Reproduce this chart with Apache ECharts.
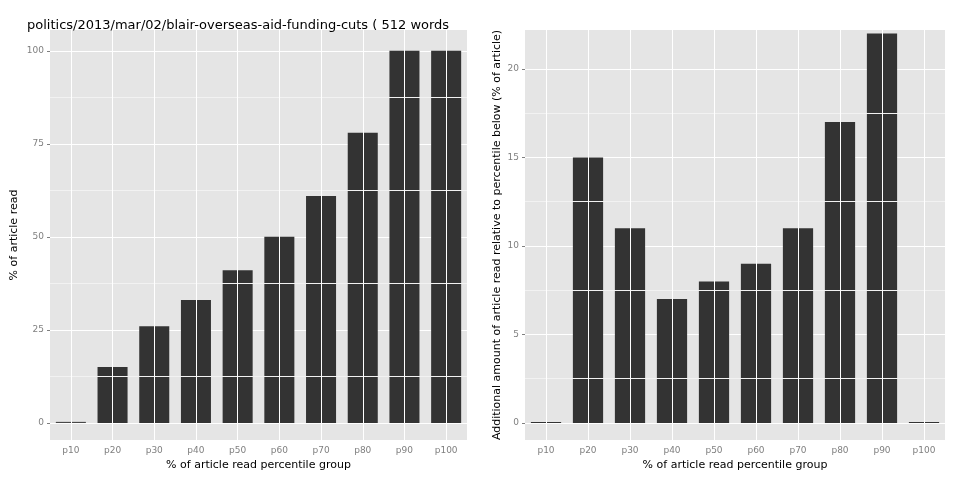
<!doctype html>
<html>
<head>
<meta charset="utf-8"/>
<script src="https://cdn.jsdelivr.net/npm/echarts@6/dist/echarts.min.js"></script>
<style>html,body{margin:0;background:#fff}#c{width:960px;height:480px}</style>
</head>
<body>
<div id="c"></div>
<script>
const groups = ["p10","p20","p30","p40","p50","p60","p70","p80","p90","p100"];
const pctRead = [0, 15, 26, 33, 41, 50, 61, 78, 100, 100];
const addRead = [0, 15, 11, 7, 8, 9, 11, 17, 22, 0];
const leftTicks = [0, 25, 50, 75, 100];
const leftMinor = [12.5, 37.5, 62.5, 87.5];
const rightTicks = [0, 5, 10, 15, 20];
const rightMinor = [2.5, 7.5, 12.5, 17.5];
const title = "politics/2013/mar/02/blair-overseas-aid-funding-cuts ( 512 words in article )";

const chart = echarts.init(document.getElementById("c"));
const font = "DejaVu Sans, sans-serif";

function xAx(idx) {
    return {
        type: "category", gridIndex: idx, data: groups,
        axisLine: {show: false},
        axisTick: {show: true, alignWithLabel: true, lineStyle: {color: "#7f7f7f"}, length: 3},
        axisLabel: {color: "#7f7f7f", fontSize: 9, fontFamily: font, margin: 6},
        splitLine: {show: false},
        name: "% of article read percentile group", nameLocation: "middle", nameGap: 20,
        nameTextStyle: {color: "#000", fontSize: 11, fontFamily: font}
    };
}
function yAx(idx, min, max, ticks, name, gap) {
    return {
        type: "value", gridIndex: idx, min: min, max: max,
        axisLine: {show: false},
        axisTick: {show: true, customValues: ticks, lineStyle: {color: "#7f7f7f"}, length: 3},
        axisLabel: {customValues: ticks, color: "#7f7f7f", fontSize: 9, fontFamily: font, margin: 6},
        splitLine: {show: true, lineStyle: {color: "#fff", width: 1}},
        name: name, nameLocation: "middle", nameGap: gap,
        nameTextStyle: {color: "#000", fontSize: 11, fontFamily: font}
    };
}
function guides(idx, minor) {
    return {
        type: "line", xAxisIndex: idx, yAxisIndex: idx, data: [], z: 1,
        markLine: {
            silent: true, symbol: "none", label: {show: false}, animation: false,
            data: minor.map(v => ({yAxis: v, lineStyle: {color: "#f2f2f2", width: 1, type: "solid"}}))
                .concat(groups.map(g => ({xAxis: g, lineStyle: {color: "#fff", width: 1, type: "solid"}})))
        }
    };
}
function bars(idx, vals) {
    return {
        type: "bar", xAxisIndex: idx, yAxisIndex: idx, data: vals, z: 3,
        barWidth: "72%", barMinHeight: 1,
        itemStyle: {color: "#333333"}, animation: false
    };
}

chart.setOption({
    animation: false,
    title: {
        text: title, left: 22, top: 14,
        textStyle: {fontSize: 13, fontWeight: "normal", color: "#000", fontFamily: font,
            width: 430, overflow: "truncate", ellipsis: ""}
    },
    grid: [
        {left: 50, right: 493, top: 30, bottom: 40, show: true, backgroundColor: "#e5e5e5", borderWidth: 0},
        {left: 525, right: 15, top: 30, bottom: 40, show: true, backgroundColor: "#e5e5e5", borderWidth: 0}
    ],
    xAxis: [xAx(0), xAx(1)],
    yAxis: [
        yAx(0, -4.6, 105.6, leftTicks, "% of article read", 30),
        yAx(1, -0.96, 22.2, rightTicks, "Additional amount of article read relative to percentile below (% of article)", 22)
    ],
    series: [guides(0, leftMinor), guides(1, rightMinor), bars(0, pctRead), bars(1, addRead)]
});
</script>
</body>
</html>
